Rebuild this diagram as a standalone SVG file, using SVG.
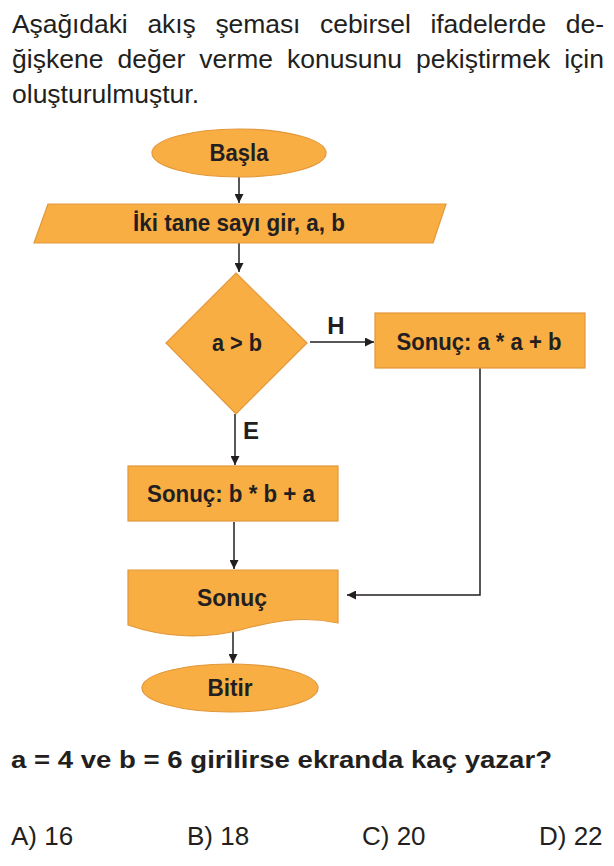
<svg xmlns="http://www.w3.org/2000/svg" width="614" height="866" viewBox="0 0 614 866">
<defs>
<style>
.body{font-family:"Liberation Sans",Arial,sans-serif;font-size:26.5px;fill:#231f20;}
.ans{font-family:"Liberation Sans",Arial,sans-serif;font-size:26px;fill:#231f20;}
.q{font-family:"Liberation Sans",Arial,sans-serif;font-size:24px;font-weight:bold;fill:#231f20;}
.lbl{font-family:"Liberation Sans",Arial,sans-serif;font-size:24px;font-weight:bold;fill:#231f20;text-anchor:middle;}
.shape{fill:#F9AE44;stroke:#E2973A;stroke-width:1.2;}
.conn{fill:none;stroke:#231f20;stroke-width:1.5;}
</style>
<marker id="arr" viewBox="0 0 10 10" refX="10" refY="5" markerWidth="9" markerHeight="9" markerUnits="userSpaceOnUse" orient="auto">
<path d="M0,0 L10,5 L0,10 z" fill="#231f20"/>
</marker>
</defs>
<rect width="614" height="866" fill="#ffffff"/>

<g id="intro">
<text class="body" x="12" y="33" textLength="592" lengthAdjust="spacing" word-spacing="12.5">Aşağıdaki akış şeması cebirsel ifadelerde de-</text>
<text class="body" x="12" y="68" textLength="592" lengthAdjust="spacing" word-spacing="6.5">ğişkene değer verme konusunu pekiştirmek için</text>
<text class="body" x="12" y="103">oluşturulmuştur.</text>
</g>

<g id="connectors">
<path class="conn" d="M239,177 V203" marker-end="url(#arr)"/>
<path class="conn" d="M239,243 V272" marker-end="url(#arr)"/>
<path class="conn" d="M310,342 H374" marker-end="url(#arr)"/>
<path class="conn" d="M235,414 V465" marker-end="url(#arr)"/>
<path class="conn" d="M234,522 V569" marker-end="url(#arr)"/>
<path class="conn" d="M233,632 V663" marker-end="url(#arr)"/>
<path class="conn" d="M480,350 V595 H347" marker-end="url(#arr)"/>
<text class="lbl" x="336" y="334">H</text>
<text class="lbl" x="251" y="439">E</text>
</g>

<g id="start">
<ellipse class="shape" cx="239" cy="153" rx="87" ry="24"/>
<text class="lbl" x="239" y="161" textLength="59" lengthAdjust="spacingAndGlyphs">Başla</text>
</g>

<g id="input">
<polygon class="shape" points="48,204 446,204 433,243 34,243"/>
<text class="lbl" x="239" y="231" textLength="212" lengthAdjust="spacingAndGlyphs">İki tane sayı gir, a, b</text>
</g>

<g id="decision">
<polygon class="shape" points="236,273 307,343 236,414 166,343"/>
<text class="lbl" x="237" y="351" textLength="50" lengthAdjust="spacingAndGlyphs">a &gt; b</text>
</g>

<g id="procH">
<rect class="shape" x="375" y="313" width="210" height="55"/>
<text class="lbl" x="479" y="350" textLength="165" lengthAdjust="spacingAndGlyphs">Sonuç: a * a + b</text>
</g>

<g id="procE">
<rect class="shape" x="128" y="466" width="210" height="55"/>
<text class="lbl" x="231" y="502" textLength="168" lengthAdjust="spacingAndGlyphs">Sonuç: b * b + a</text>
</g>

<g id="output">
<path class="shape" d="M128,570 H338 V623 C300,615 270,622 240,630 C205,639 165,638 128,625 Z"/>
<text class="lbl" x="232" y="606" textLength="70" lengthAdjust="spacingAndGlyphs">Sonuç</text>
</g>

<g id="end">
<ellipse class="shape" cx="230" cy="688" rx="88" ry="24"/>
<text class="lbl" x="230" y="696" textLength="45" lengthAdjust="spacingAndGlyphs">Bitir</text>
</g>

<g id="question">
<text class="q" x="11" y="768" textLength="541" lengthAdjust="spacingAndGlyphs">a = 4 ve b = 6 girilirse ekranda kaç yazar?</text>
<text class="ans" x="11" y="845">A) 16</text>
<text class="ans" x="187" y="845">B) 18</text>
<text class="ans" x="362" y="845">C) 20</text>
<text class="ans" x="539" y="845">D) 22</text>
</g>
</svg>
